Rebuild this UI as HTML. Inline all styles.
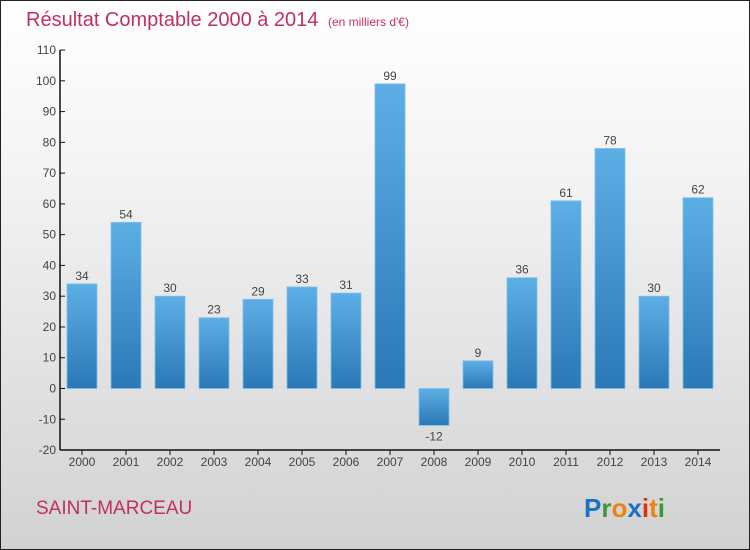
<!DOCTYPE html>
<html><head><meta charset="utf-8"><style>
body{margin:0}
#c{width:750px;height:550px;position:relative;overflow:hidden;box-sizing:border-box;border:1px solid #222;background:linear-gradient(#ffffff,#f4f4f4 30%,#d2d2d2);font-family:"Liberation Sans","DejaVu Sans",sans-serif}
</style></head><body>
<div id="c">
<svg width="750" height="550" style="position:absolute;left:-1px;top:-1px">
<defs><linearGradient id="bg" x1="0" y1="0" x2="0" y2="1"><stop offset="0" stop-color="#5eaee6"/><stop offset="1" stop-color="#2a78b6"/></linearGradient></defs>
<text x="26" y="26" font-size="20" fill="#c0305f">Résultat Comptable 2000 à 2014 <tspan font-size="12" dx="4">(en milliers d'€)</tspan></text>
<g id="axes"></g><g id="bars"></g>
<text x="36" y="514" font-size="19" fill="#c0305f">SAINT-MARCEAU</text>
<text x="584" y="517" font-size="26" font-weight="bold"><tspan fill="#1a6fc7">P</tspan><tspan fill="#3a9a3a">r</tspan><tspan fill="#f08010">o</tspan><tspan fill="#1a6fc7">x</tspan><tspan fill="#e03010">i</tspan><tspan fill="#f08010">t</tspan><tspan fill="#3a9a3a">i</tspan></text>
</svg>
</div>
<script>
const years=["2000","2001","2002","2003","2004","2005","2006","2007","2008","2009","2010","2011","2012","2013","2014"];
const values=[34,54,30,23,29,33,31,99,-12,9,36,61,78,30,62];
const yTicks=[-20,-10,0,10,20,30,40,50,60,70,80,90,100,110];
const NS="http://www.w3.org/2000/svg";
function y(v){return 388.5-(v)*400/130;}
function x(i){return 82+i*44;}
function mk(t,a,p){const e=document.createElementNS(NS,t);for(const k in a)e.setAttribute(k,a[k]);p.appendChild(e);return e;}
const ax=document.getElementById('axes'),bg=document.getElementById('bars');
let l=mk('line',{x1:60,y1:50,x2:60,y2:450,stroke:'#111','stroke-width':1.5},ax);


l=mk('line',{x1:60,y1:450,x2:720,y2:450,stroke:'#111','stroke-width':1.5},ax);


yTicks.forEach(v=>{const yy=y(v);
mk('line',{x1:60,y1:yy,x2:65,y2:yy,stroke:'#111'},ax);
const t=mk('text',{x:56,y:yy+4,'font-size':12,fill:'#444','text-anchor':'end'},ax);t.textContent=v<0?'-'+(-v):v;

});
years.forEach((yr,i)=>{const cx=x(i);
mk('line',{x1:cx,y1:450,x2:cx,y2:455,stroke:'#111'},ax);
const t=mk('text',{x:cx,y:466,'font-size':12,fill:'#444','text-anchor':'middle'},ax);t.textContent=yr;


const v=values[i],y0=y(0),y1=y(v);
const r=mk('rect',{x:cx-15,y:Math.min(y0,y1),width:30,height:Math.abs(y1-y0),fill:'url(#bg)',stroke:'#7cc0ee','stroke-width':0.8},bg);


const lt=mk('text',{x:cx,y:v>=0?y1-4:y1+15,'font-size':12,fill:'#444','text-anchor':'middle'},bg);lt.textContent=v<0?'-'+(-v):v;

});
</script>
</body></html>
